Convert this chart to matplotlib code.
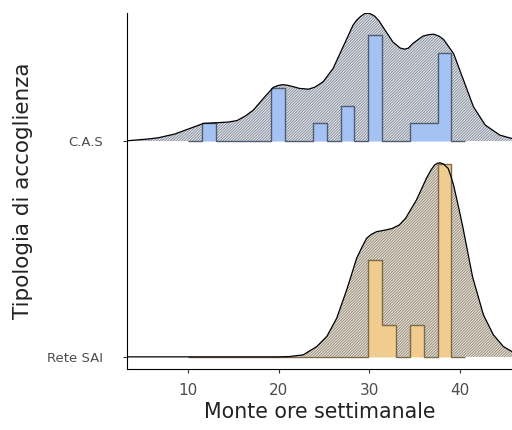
import numpy as np
import matplotlib.pyplot as plt

# ridge categories (bottom to top)
groups = ["Rete SAI", "C.A.S"]

# density curves (x = hours, y = density)
cas_x = [3.2, 3.8, 5.5, 6.7, 8.5, 10.4, 11.7, 13.0, 14.4, 15.4, 16.3, 17.2, 18.3,
         19.4, 19.9, 20.4, 20.9, 21.6, 22.3, 23.3, 24.0, 24.9, 26.0, 27.1, 28.2,
         28.6, 29.0, 29.5, 30.0, 30.6, 31.1, 31.5, 32.6, 33.4, 33.9, 34.3, 34.8,
         35.9, 36.5, 37.1, 37.7, 38.2, 39.3, 40.4, 41.5, 42.8, 44.4, 45.3, 45.9]
cas_dens = [0.0006, 0.0013, 0.0037, 0.0061, 0.0129, 0.0246, 0.0327, 0.0338, 0.0351,
            0.0379, 0.0462, 0.0572, 0.0788, 0.0992, 0.1025, 0.1043, 0.1034, 0.1006,
            0.0973, 0.0960, 0.0997, 0.1095, 0.1342, 0.1741, 0.2142, 0.2234, 0.2299,
            0.2358, 0.2363, 0.2308, 0.2216, 0.2110, 0.1833, 0.1720, 0.1699, 0.1717,
            0.1804, 0.1939, 0.1966, 0.1976, 0.1939, 0.1878, 0.1619, 0.1126, 0.0633,
            0.0295, 0.0111, 0.0068, 0.0041]

sai_x = [3.2, 20.0, 21.2, 22.7, 24.2, 25.3, 26.4, 27.5, 28.6, 29.2, 29.7, 30.2,
         30.8, 31.8, 32.5, 33.3, 34.0, 35.2, 36.3, 36.8, 37.2, 37.5, 37.8, 38.2,
         38.7, 39.0, 39.3, 39.8, 40.3, 41.4, 42.6, 43.7, 44.8, 45.9]
sai_dens = [0.0, 0.0, 0.0006, 0.0037, 0.0190, 0.0375, 0.0715, 0.1237, 0.1822,
            0.2031, 0.2192, 0.2262, 0.2314, 0.2345, 0.2373, 0.2437, 0.2561, 0.2899,
            0.3300, 0.3453, 0.3545, 0.3578, 0.3588, 0.3563, 0.3484, 0.3342, 0.3176,
            0.2806, 0.2419, 0.1477, 0.0775, 0.0406, 0.0190, 0.0083]

# histogram bins and counts
bin_edges = [10.0, 11.53, 13.06, 14.59, 16.12, 17.65, 19.18, 20.71, 22.24, 23.77, 25.3,
             26.83, 28.36, 29.89, 31.42, 32.95, 34.48, 36.01, 37.54, 39.07, 40.6]
cas_counts = [0, 1, 0, 0, 0, 0, 3, 0, 0, 1, 0, 2, 0, 6, 0, 0, 1, 1, 5, 0]
sai_counts = [0, 0, 0, 0, 0, 0, 0, 0, 0, 0, 0, 0, 0, 3, 1, 0, 1, 0, 6, 0]

SCALE = 2.507  # ridge units per density unit
BIN_W = 1.53

plt.rcParams['hatch.linewidth'] = 0.55

fig, ax = plt.subplots(figsize=(5.12, 4.3), dpi=100)
fig.subplots_adjust(left=0.248, right=1.0, bottom=0.142, top=0.970)

ridges = [
    (1, cas_x, cas_dens, cas_counts, '#dfe3ea', '#7d838f', '#a4c2f4', '#4f5d73'),
    (0, sai_x, sai_dens, sai_counts, '#e6dfd2', '#898173', '#f0cd8e', '#7d6a48'),
]

for base, xs, dens, counts, face, hatch_col, bar_col, bar_edge in ridges:
    y = base + np.array(dens) * SCALE
    # textured density area
    ax.fill_between(xs, base, y, facecolor=face, edgecolor=hatch_col,
                    hatch='////////////', linewidth=0, zorder=1)
    # histogram as a step outline
    h = np.array(counts) / (sum(counts) * BIN_W) * SCALE
    ax.stairs(base + h, bin_edges, baseline=base, fill=True,
              facecolor=bar_col, edgecolor=bar_edge, linewidth=1.0, zorder=2)
    ax.plot(xs, y, color='black', linewidth=0.9, zorder=3)

ax.set_xlim(3.25, 45.75)
ax.set_ylim(-0.056, 1.594)
ax.set_xticks([10, 20, 30, 40])
ax.set_yticks([0, 1])
ax.set_yticklabels(groups)

ax.spines['top'].set_visible(False)
ax.spines['right'].set_visible(False)
for s in ['left', 'bottom']:
    ax.spines[s].set_linewidth(0.8)
ax.tick_params(axis='both', length=3, width=0.8, color='#333333')
ax.tick_params(axis='x', labelsize=11, labelcolor='#4d4d4d', pad=7.3)
ax.tick_params(axis='y', labelsize=9.5, labelcolor='#4d4d4d', pad=14.4)

ax.set_xlabel('Monte ore settimanale', fontsize=14.8, color='#222222', labelpad=3)
ax.set_ylabel('Tipologia di accoglienza', fontsize=15.5, color='#222222', labelpad=10)

plt.savefig('out.png', dpi=100)
